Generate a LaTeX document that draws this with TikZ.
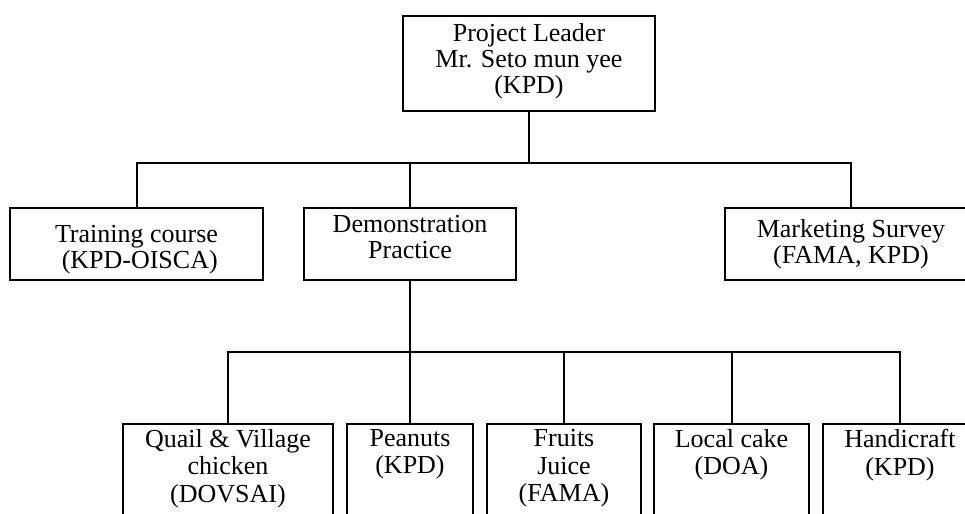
\documentclass[tikz,border=0pt]{standalone}
\usepackage{fontspec}
\setmainfont{Liberation Serif}
\begin{document}
\begin{tikzpicture}[x=0.75pt, y=-0.75pt,
  box/.style={draw=black, line width=1.5pt, rectangle, inner sep=0pt, outer sep=0pt},
  bw/.style={minimum width={#1*0.75pt}},
  bh/.style={minimum height={#1*0.75pt}},
  txt/.style={inner sep=0pt, align=center, anchor=north,
              font=\fontsize{19.5pt}{19.4pt}\selectfont},
  txtlow/.style={txt, font=\fontsize{19.5pt}{20.6pt}\selectfont},
  wire/.style={line width=1.5pt, line cap=rect}]
\useasboundingbox (0,0) rectangle (965,514);
\clip (0,0) rectangle (965,514);
\fill[white] (0,0) rectangle (965,514);

% upper level
\node[box, bw=252, bh=95] (lead) at (529,63.5) {};
\node[box, bw=253, bh=72] (train) at (136.5,244) {};
\node[box, bw=212, bh=72] (demo) at (410,244) {};
\node[box, bw=252, bh=72] (mkt) at (851,244) {};

% lower level (boxes run on past the page edge)
\node[box, bw=210, bh=130] (quail) at (228,489) {};
\node[box, bw=126, bh=130] (pea) at (410,489) {};
\node[box, bw=154, bh=130] (fruit) at (564,489) {};
\node[box, bw=155, bh=130] (cake) at (731.5,489) {};
\node[box, bw=154, bh=130] (hand) at (900,489) {};

% labels
\node[txt] (leadt) at (529,23.2) {Project Leader\\Mr. Seto mun yee\\(KPD)};
\node[txt] (traint) at (136.5,225.2) {Training course\\\hspace*{0.25em}(KPD-OISCA)};
\node[txt] (demot) at (410,214.7) {Demonstration\\Practice};
\node[txt] (mktt) at (851,219.2) {Marketing Survey\\(FAMA, KPD)};
\node[txtlow] (quailt) at (228,429.2) {Quail \& Village\\chicken\\(DOVSAI)};
\node[txtlow] (peat) at (410,429.2) {Peanuts\\(KPD)};
\node[txtlow] (fruitt) at (564,429.2) {Fruits\\Juice\\(FAMA)};
\node[txtlow] (caket) at (731.5,429.2) {Local cake\\(DOA)};
\node[txtlow] (handt) at (900,429.2) {Handicraft\\(KPD)};

% connectors
\coordinate (busA) at (529,163);
\coordinate (busB) at (410,352);
\draw[wire] (lead.south) -- (busA);
\draw[wire] (train.north) |- (busA) -| (mkt.north);
\draw[wire] (demo.north) -- (demo.north |- busA);
\draw[wire] (demo.south) -- (pea.north);
\draw[wire] (quail.north) |- (busB) -| (hand.north);
\draw[wire] (fruit.north) -- (fruit.north |- busB);
\draw[wire] (cake.north) -- (cake.north |- busB);
\end{tikzpicture}
\end{document}
